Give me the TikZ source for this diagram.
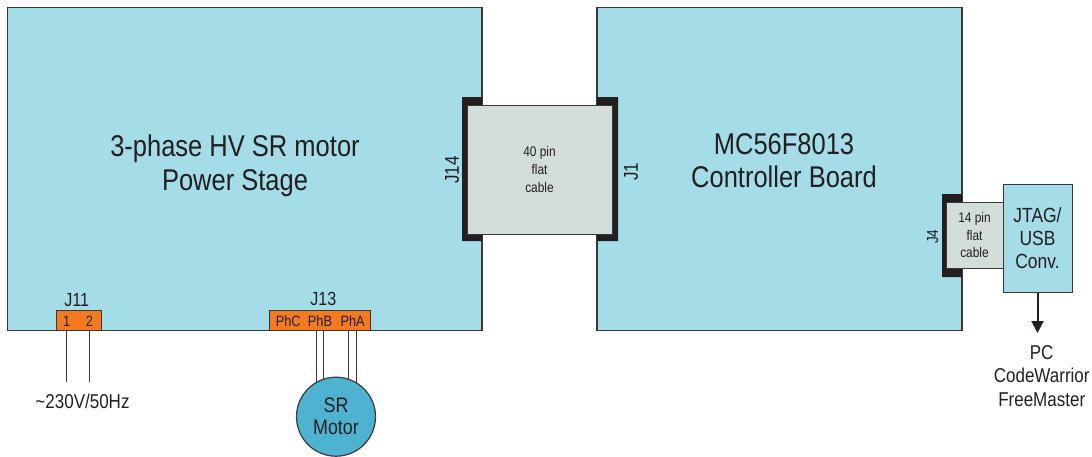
\documentclass[tikz,border=0pt]{standalone}
\usepackage{fontspec}
\setmainfont{Liberation Sans}[FakeStretch=0.85]
\usepackage{tikz}
\usetikzlibrary{arrows.meta,positioning,calc}
\definecolor{boardblue}{HTML}{A4DCE7}
\definecolor{cablegray}{HTML}{D3DDD9}
\definecolor{plugorange}{HTML}{F47A20}
\definecolor{motorblue}{HTML}{4DB3D1}
\definecolor{inkgray}{HTML}{231F20}
\definecolor{edgegray}{HTML}{383838}

\begin{document}
\begin{tikzpicture}[x=1pt,y=-1pt,
 board/.style={draw=edgegray,line width=1.3pt,fill=boardblue,inner sep=0pt},
 cable/.style={draw=edgegray,line width=0.9pt,fill=cablegray,inner sep=0pt,align=center,text=inkgray},
 plug/.style={draw=edgegray,line width=0.7pt,fill=plugorange,inner sep=0pt,minimum height=20pt},
 lbl/.style={inner sep=0pt,text=inkgray,align=center},
 wire/.style={draw=edgegray,line width=1pt}]
\useasboundingbox (0,0) rectangle (1092,456);
% boards
\node[board,minimum width=474.5pt,minimum height=323pt] (pwr) at (244.75,169) {};
\node[board,minimum width=365pt,minimum height=323pt] (ctl) at (779.5,169) {};
\node[lbl,anchor=north,font=\fontsize{30}{34}\selectfont] (pwrtxt) at (235,135) {3-phase HV SR motor\\Power Stage};
\node[lbl,anchor=north,font=\fontsize{30}{33}\selectfont] (ctltxt) at (784,133) {MC56F8013\\Controller Board};
% header brackets
\fill[inkgray] (462,97) rectangle (482,241) (597,97) rectangle (618,241) (942,194) rectangle (962,277);
% cables and converter
\node[cable,minimum width=145pt,minimum height=129pt,font=\fontsize{14}{18}\selectfont] (fc40) at (539.5,169.5) {40 pin\\flat\\cable};
\node[cable,minimum width=57pt,minimum height=66pt,font=\fontsize{14}{17.7}\selectfont] (fc14) at (974.5,235) {14 pin\\flat\\cable};
\node[board,line width=1pt,minimum width=69pt,minimum height=108pt,align=center,text=inkgray,font=\fontsize{20.5}{23.3}\selectfont] (jtag) at (1037.5,238) {JTAG/\\USB\\Conv.};
\node[lbl,rotate=90,font=\fontsize{20}{24}\selectfont] (j14) at (452,170) {J14};
\node[lbl,rotate=90,font=\fontsize{20}{24}\selectfont] (j1) at (631,171.7) {J1};
\node[lbl,rotate=90,font=\fontsize{16}{20}\selectfont] (j4) at (932.7,236.7) {J4};
% plugs
\node[plug,minimum width=45.7pt] (j11) at (78.85,320) {};
\node[plug,minimum width=101.7pt] (j13) at (319.85,320) {};
\node[lbl,anchor=base,font=\fontsize{19}{22}\selectfont] (j11lbl) at (76.7,306) {J11};
\node[lbl,anchor=base,font=\fontsize{19}{22}\selectfont] (j13lbl) at (323.3,305) {J13};
\foreach \x/\t [count=\i] in {66.7/1,89.3/2}
  \node[lbl,anchor=base,font=\fontsize{15}{18}\selectfont] (pin\i) at (\x,326.5) {\t};
\foreach \x/\n/\t in {288.3/phc/PhC,320/phb/PhB,352.7/pha/PhA}
  \node[lbl,anchor=base,font=\fontsize{15}{18}\selectfont] (\n) at (\x,326) {\t};
% mains
\foreach \i in {1,2} \draw[wire] (pin\i |- j11.south) -- ++(0,51.5);
\node[lbl,anchor=base,font=\fontsize{20}{24}\selectfont] (acin) at (82.5,408) {\textasciitilde230V/50Hz};
% motor
\foreach \p in {phb,pha} \foreach \dx in {-3.8,3.8}
  \draw[wire] ($(\p.base |- j13.south)+(\dx,0)$) -- ++(0,70);
\node[draw=edgegray,line width=1.2pt,fill=motorblue,circle,minimum size=79pt,inner sep=0pt,align=center,text=inkgray,font=\fontsize{21}{22}\selectfont] (motor) at (336,416.7) {SR\\Motor};
% pc link
\coordinate (pcin) at (1037.5,333);
\draw[line width=2pt,draw=inkgray,-{Triangle[width=12pt,length=12pt]}] (jtag) -- (pcin);
\node[lbl,anchor=north,font=\fontsize{20}{23.7}\selectfont] (pc) at (1041.7,345) {PC\\CodeWarrior\\FreeMaster};
\end{tikzpicture}
\end{document}
